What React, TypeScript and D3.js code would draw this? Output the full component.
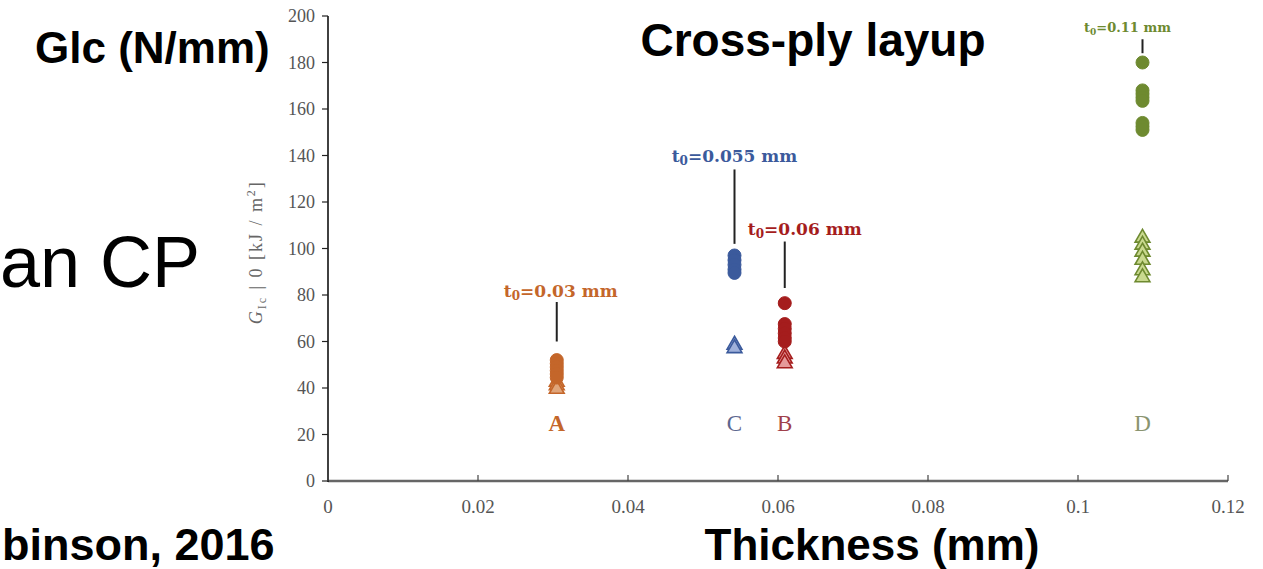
import React from "react";
import * as d3 from "d3";

const W = 1263;
const H = 569;

// Groups (plies), their x (thickness mm)
const groupNames = ["A", "C", "B", "D"];
const groupX = [0.0305, 0.0542, 0.0609, 0.1086];
const thicknessLabels = ["0.03", "0.055", "0.06", "0.11"];

// GIc values (kJ/m^2)
const circlesA = [52, 50.5, 49, 47.5, 46, 44.5];
const trianglesA = [43, 41.5, 40];
const circlesC = [97, 95, 93, 91, 89.5];
const trianglesC = [59, 57.5];
const circlesB = [76.5, 67.5, 65.5, 63.5, 61.5, 60];
const trianglesB = [55, 53, 51];
const circlesD = [180, 168, 166.5, 165, 163.5, 154, 152.5, 151];
const trianglesD = [105, 102, 99, 95.5, 91, 88];

const xTicks = [0, 0.02, 0.04, 0.06, 0.08, 0.1, 0.12];
const xTickLabels = ["0", "0.02", "0.04", "0.06", "0.08", "0.1", "0.12"];
const yTicks = [0, 20, 40, 60, 80, 100, 120, 140, 160, 180, 200];

// annotation anchors in data units: label baseline, leader top, leader bottom
const annLabelY = [79, 137, 106, 193];
const annLineTop = [77, 134, 103, 190];
const annLineBottom = [60, 102, 83, 184];
const letterY = 21.5;

const colors = ["#c4662a", "#3b5a9c", "#a51d1d", "#6e8a30"];
const triFill = ["#e0a57a", "#9fb0da", "#e59a9a", "#c9d98f"];
const letterColors = ["#c4662a", "#5d6790", "#a0404a", "#8a9470"];
const annDx = [4, 0, 20, -15];

const circles = [circlesA, circlesC, circlesB, circlesD];
const triangles = [trianglesA, trianglesC, trianglesB, trianglesD];

export default function App() {
  const x = d3.scaleLinear().domain([0, 0.12]).range([328, 1228]);
  const y = d3.scaleLinear().domain([0, 200]).range([481, 16]);
  const tri = d3.symbol().type(d3.symbolTriangle).size(95);
  const serif = "'Liberation Serif', 'DejaVu Serif', serif";
  const wideSerif = "'DejaVu Serif', serif";
  const sans = "'Liberation Sans', Arial, sans-serif";

  return (
    <svg
      width={W}
      height={H}
      style={{ position: "absolute", left: 0, top: 0, background: "#fff" }}
    >
      {/* axes */}
      <line x1={x(0)} x2={x(0.12)} y1={y(0)} y2={y(0)} stroke="#666" strokeWidth={2.5} />
      <line x1={x(0)} x2={x(0)} y1={y(0) + 1} y2={y(200)} stroke="#111" strokeWidth={1.6} />
      {yTicks.map((t) => (
        <g key={"y" + t}>
          <line x1={x(0) - 6} x2={x(0)} y1={y(t)} y2={y(t)} stroke="#222" strokeWidth={1.2} />
          <text x={x(0) - 13} y={y(t) + 6} textAnchor="end" fontFamily={serif} fontSize={18} fill="#555">
            {t}
          </text>
        </g>
      ))}
      {xTicks.map((t, i) => (
        <g key={"x" + t}>
          <line x1={x(t)} x2={x(t)} y1={y(0)} y2={y(0) - 6} stroke="#444" strokeWidth={1.2} />
          <text x={x(t)} y={y(0) + 32} textAnchor="middle" fontFamily={serif} fontSize={19} fill="#555">
            {xTickLabels[i]}
          </text>
        </g>
      ))}
      <text
        transform={`translate(262, ${y(98)}) rotate(-90)`}
        textAnchor="middle"
        fontFamily={serif}
        fontSize={18}
        fill="#666"
        textLength={142}
        lengthAdjust="spacing"
      >
        <tspan fontStyle="italic">G</tspan>
        <tspan fontSize={12} dy={4}>Ic</tspan>
        <tspan dy={-4}>{" | 0 [kJ / m"}</tspan>
        <tspan fontSize={12} dy={-7}>2</tspan>
        <tspan dy={7}>]</tspan>
      </text>

      {/* leaders and annotations */}
      {groupX.map((gx, i) => (
        <g key={"ann" + i}>
          <line x1={x(gx)} x2={x(gx)} y1={y(annLineTop[i])} y2={y(annLineBottom[i])} stroke="#222" strokeWidth={2} />
          <text
            x={x(gx) + annDx[i]}
            y={y(annLabelY[i])}
            textAnchor="middle"
            fontFamily={wideSerif}
            fontWeight="bold"
            fontSize={i === 3 ? 13 : 17}
            fill={colors[i]}
          >
            t<tspan fontSize={i === 3 ? 9 : 12} dy={3}>0</tspan>
            <tspan dy={-3}>{"=" + thicknessLabels[i] + " mm"}</tspan>
          </text>
          <text
            x={x(gx)}
            y={y(letterY)}
            textAnchor="middle"
            fontFamily={serif}
            fontSize={23}
            fontWeight={i === 0 ? "bold" : "normal"}
            fill={letterColors[i]}
          >
            {groupNames[i]}
          </text>
        </g>
      ))}

      {/* triangles */}
      {triangles.map((arr, i) =>
        arr.map((v, j) => (
          <path
            key={"t" + i + "-" + j}
            d={tri() as string}
            transform={`translate(${x(groupX[i])}, ${y(v) + 1})`}
            fill={triFill[i]}
            stroke={colors[i]}
            strokeWidth={1.6}
          />
        ))
      )}
      {/* circles */}
      {circles.map((arr, i) =>
        arr.map((v, j) => (
          <circle
            key={"c" + i + "-" + j}
            cx={x(groupX[i])}
            cy={y(v)}
            r={6.5}
            fill={colors[i]}
            stroke={colors[i]}
            strokeWidth={1}
          />
        ))
      )}

      {/* overlay slide texts */}
      <text x={35} y={63} fontFamily={sans} fontWeight="bold" fontSize={44} fill="#000">
        Glc (N/mm)
      </text>
      <text x={813} y={56} textAnchor="middle" fontFamily={sans} fontWeight="bold" fontSize={46} fill="#000">
        Cross-ply layup
      </text>
      <text x={200} y={287} textAnchor="end" fontFamily={sans} fontSize={72} fill="#000">
        an CP
      </text>
      <text x={2} y={560} fontFamily={sans} fontWeight="bold" fontSize={45} fill="#000">
        binson, 2016
      </text>
      <text x={872} y={560} textAnchor="middle" fontFamily={sans} fontWeight="bold" fontSize={44} fill="#000">
        Thickness (mm)
      </text>
    </svg>
  );
}
